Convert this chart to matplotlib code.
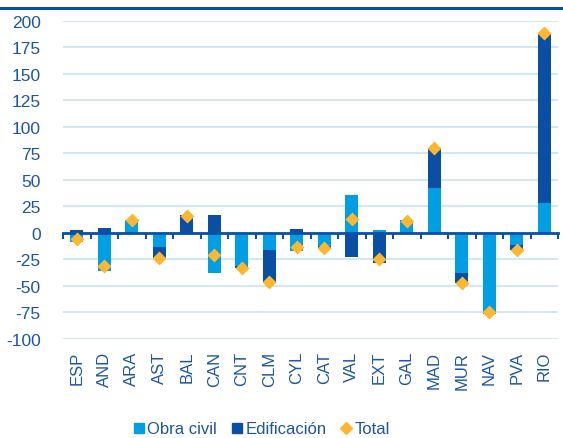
import numpy as np
import matplotlib
matplotlib.use("Agg")
import matplotlib.pyplot as plt  # noqa: E402
from matplotlib.lines import Line2D  # noqa: E402

plt.rcParams["font.family"] = ["Liberation Sans", "DejaVu Sans"]
plt.rcParams["axes.unicode_minus"] = False

regions = ["ESP", "AND", "ARA", "AST", "BAL", "CAN", "CNT", "CLM", "CYL",
           "CAT", "VAL", "EXT", "GAL", "MAD", "MUR", "NAV", "PVA", "RIO"]
obra_civil = [-9, -36, 12, -13, -1, -38, -31, -16, -17, -12, 36, 3, 12, 42, -38, -75, -11, 28]
edificacion = [3, 5, 0.5, -11, 17, 17, -2, -30, 4, -2, -23, -28, -1, 38, -9, -1, -5, 160]
total = [-6, -31, 12.5, -24, 16, -21, -33, -46, -13, -14, 13, -25, 11, 80, -47, -75, -16, 188]

C_OBRA = "#009fe3"
C_EDIF = "#0a4fa3"
C_TOT = "#fbb731"
C_TXT = "#1d55a6"
C_GRID = "#c8e7f7"

fig = plt.figure(figsize=(5.63, 4.39), dpi=100, facecolor="white")
ax = fig.add_axes([63 / 563, 1 - 340 / 439, 495 / 563, 318.3 / 439])

x = np.arange(len(regions))
ob = np.array(obra_civil, dtype=float)
ed = np.array(edificacion, dtype=float)
# excel-style stacking: positives pile up, negatives pile down
ed_bottom = np.where(np.sign(ed) == np.sign(ob), ob, 0)

w = 0.47
ax.bar(x, ob, w, color=C_OBRA, zorder=2)
ax.bar(x, ed, w, bottom=ed_bottom, color=C_EDIF, zorder=2)
ax.plot(x, total, "D", color=C_TOT, ms=7.5, mec="none", zorder=4)

ax.set_xlim(-0.5, len(regions) - 0.5)
ax.set_ylim(-100, 200)
ax.set_yticks(np.arange(-100, 201, 25))
ax.yaxis.grid(True, color=C_GRID, lw=1.3, zorder=0)
ax.tick_params(axis="y", length=0, pad=16, labelsize=12.5, labelcolor=C_TXT)

for s in ("top", "right", "left"):
    ax.spines[s].set_visible(False)
ax.spines["bottom"].set_position(("data", 0))
ax.spines["bottom"].set_color(C_EDIF)
ax.spines["bottom"].set_linewidth(2)
ax.spines["bottom"].set_zorder(3)
ax.set_xticks(x)
ax.set_xticklabels([])
ax.tick_params(axis="x", which="major", length=0)
ax.set_xticks(np.arange(-0.5, len(regions)), minor=True)
ax.tick_params(axis="x", which="minor", length=4, width=1.5, color=C_EDIF, direction="out")

for xi, name in zip(x, regions):
    ax.text(xi, -0.037, name, transform=ax.get_xaxis_transform(), rotation=90,
            ha="center", va="top", fontsize=12, color=C_TXT)

fig.add_artist(Line2D([0, 1], [1 - 9 / 439, 1 - 9 / 439], color=C_EDIF, lw=2.2))

handles = [
    Line2D([], [], marker="s", ls="none", color=C_OBRA, ms=6.5),
    Line2D([], [], marker="s", ls="none", color=C_EDIF, ms=6.5),
    Line2D([], [], marker="D", ls="none", color=C_TOT, ms=6),
]
fig.legend(handles, ["Obra civil", "Edificación", "Total"], loc="center",
           bbox_to_anchor=(262 / 563, 1 - 430 / 439), ncol=3, frameon=False,
           fontsize=12, handlelength=0.6, handletextpad=0.2, columnspacing=0.9,
           labelcolor=C_TXT)

fig.savefig("out.png", dpi=100, facecolor="white")
